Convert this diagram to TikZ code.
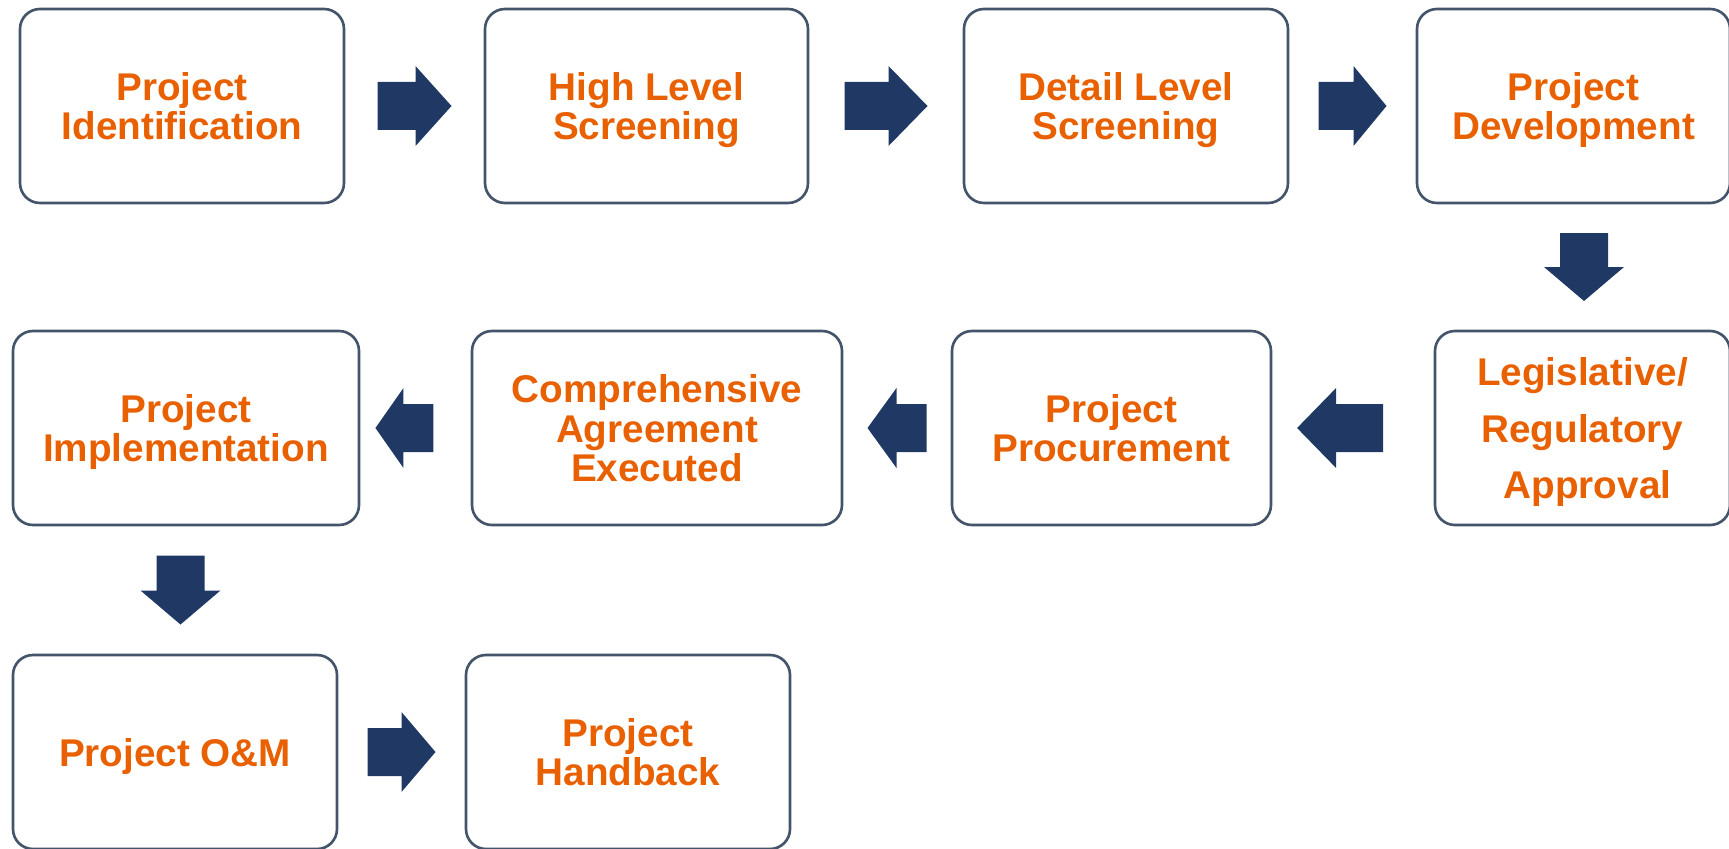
\documentclass[tikz,border=0pt]{standalone}
\usepackage{fontspec}
\setmainfont{Liberation Sans}
\usetikzlibrary{calc}

\definecolor{stagetext}{RGB}{232,96,0}
\definecolor{stageline}{RGB}{68,84,106}
\definecolor{flownavy}{RGB}{31,56,100}

\tikzset{
  stage/.style={draw=stageline, line width=1.5pt, rounded corners=0.4cm, fill=white,
    minimum height=3.88cm, align=center, text=stagetext, text depth=0pt,
    font=\fontsize{22}{22.7}\selectfont\bfseries},
}

% block arrow: #1 centre, #2 angle, #3 length, #4 head length
\newcommand{\flowarrow}[4]{%
  \fill[flownavy, shift={#1}, rotate=#2]
    (-#3/2,-0.48) -- (#3/2-#4,-0.48) -- (#3/2-#4,-0.8) -- (#3/2,0)
    -- (#3/2-#4,0.8) -- (#3/2-#4,0.48) -- (-#3/2,0.48) -- cycle;}

\begin{document}
\begin{tikzpicture}
    \useasboundingbox (0,0) rectangle (34.58,16.96);
    \clip (0,0) rectangle (34.58,16.96);

    % first row
    \node[stage, minimum width=6.48cm] (b1) at (3.64,14.84) {Project\\Identification};
    \node[stage, minimum width=6.46cm] (b2) at (12.93,14.84) {High Level\\Screening};
    \node[stage, minimum width=6.48cm] (b3) at (22.52,14.84) {Detail Level\\Screening};
    \node[stage, minimum width=6.26cm] (b4) at (31.47,14.84) {Project\\Development};

    % second row, right to left
    \node[stage, minimum width=5.90cm, font=\fontsize{22}{32}\selectfont\bfseries]
        (b5) at (31.65,8.40) {Legislative/\\Regulatory\\\hspace*{0.2cm}Approval};
    \node[stage, minimum width=6.38cm] (b6) at (22.23,8.40) {Project\\Procurement};
    \node[stage, minimum width=7.40cm] (b7) at (13.14,8.40) {Comprehensive\\Agreement\\Executed};
    \node[stage, minimum width=6.92cm] (b8) at (3.72,8.40) {Project\\Implementation};

    % last row
    \node[stage, minimum width=6.48cm] (b9) at (3.50,1.92) {Project O\&M};
    \node[stage, minimum width=6.48cm] (b10) at (12.56,1.92) {Project\\Handback};

    \flowarrow{($(b1.east)!0.5!(b2.west)$)}{0}{1.48}{0.72}
    \flowarrow{($(b2.east)!0.5!(b3.west)$)}{0}{1.66}{0.78}
    \flowarrow{($(b3.east)!0.5!(b4.west)$)}{0}{1.36}{0.66}
    \flowarrow{($(b4.south)!0.5!(b5.north)+(0.12,0)$)}{-90}{1.36}{0.68}
    \flowarrow{($(b5.west)!0.58!(b6.east)$)}{180}{1.72}{0.78}
    \flowarrow{($(b6.west)!0.5!(b7.east)$)}{180}{1.18}{0.58}
    \flowarrow{($(b7.west)!0.6!(b8.east)$)}{180}{1.16}{0.56}
    \flowarrow{($(b8.south)!0.5!(b9.north)$)}{-90}{1.38}{0.68}
    \flowarrow{($(b9.east)!0.5!(b10.west)$)}{0}{1.36}{0.68}
\end{tikzpicture}
\end{document}
